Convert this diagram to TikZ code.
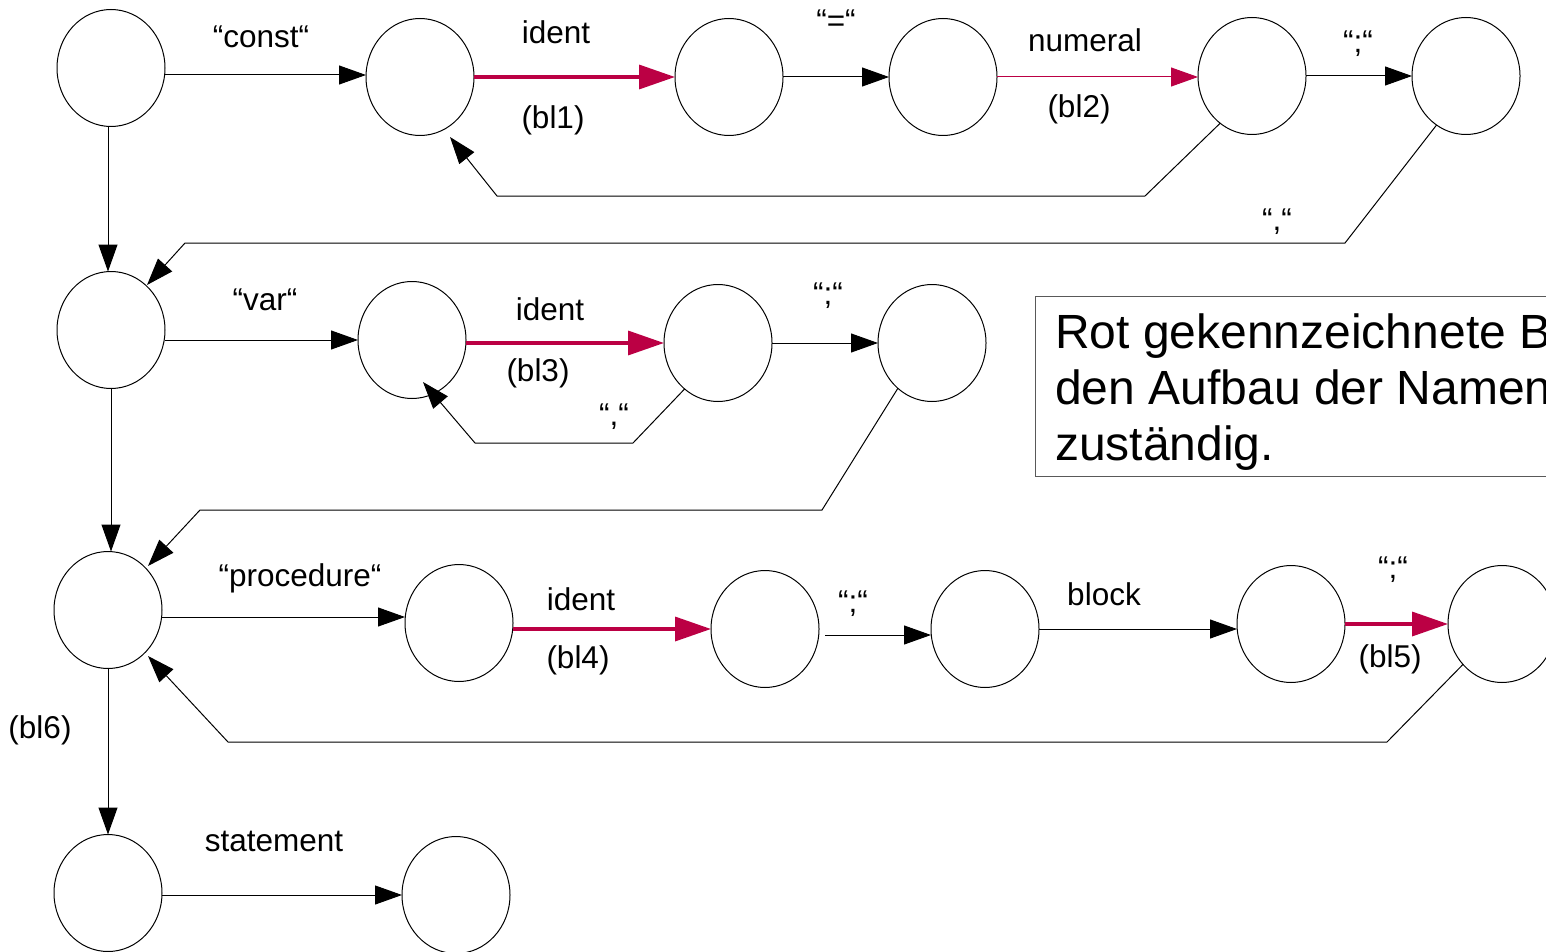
\documentclass[tikz,border=0pt]{standalone}
\usepackage{fontspec}
\setmainfont{Liberation Sans}
\usetikzlibrary{arrows.meta,shapes.geometric,calc}
\definecolor{markred}{RGB}{187,0,68}
\begin{document}
\begin{tikzpicture}[x=1pt,y=-1pt,
  state/.style={draw, ellipse, minimum width=108pt, minimum height=117pt,
    inner sep=0pt, outer sep=0pt, line width=1pt},
  arr/.style={line width=1pt, -{Triangle[length=27pt,width=19pt]}},
  redarr/.style={draw=markred, line width=3.5pt, -{Triangle[length=36pt,width=24pt]}},
  thinred/.style={draw=markred, line width=1pt, -{Triangle[length=27pt,width=19pt]}},
  lbl/.style={font=\fontsize{31.5}{36}\selectfont, inner sep=0pt, anchor=base},
  notetext/.style={font=\fontsize{48}{56}\selectfont, inner sep=0pt, anchor=base west}
]
\clip (0,0) rectangle (1546,952);
\useasboundingbox (0,0) rectangle (1546,952);

% states
\node[state] (C1) at (111,68) {};
\node[state] (C2) at (420,77) {};
\node[state] (C3) at (729,77) {};
\node[state] (C4) at (943,77) {};
\node[state] (C5) at (1252,76) {};
\node[state] (C6) at (1466,76) {};

\node[state] (D1) at (111,330) {};
\node[state] (D2) at (412,340) {};
\node[state] (D3) at (718,343) {};
\node[state] (D4) at (932,343) {};

\node[state] (E1) at (108,610) {};
\node[state] (E2) at (459,623) {};
\node[state] (E3) at (765,629) {};
\node[state] (E4) at (985,629) {};
\node[state] (E5) at (1291,624) {};
\node[state] (E6) at (1502,624) {};

\node[state] (F1) at (108,893) {};
\node[state] (F2) at (456,895) {};

% const section
\coordinate (c12) at ([yshift=-7pt]C1.east);
\draw[arr] (c12) -- (c12 -| C2.west);
\draw[redarr] (C2.east) -- (C2.east -| C3.west);
\draw[arr] (C3.east |- C4.west) -- (C4.west);
\draw[thinred] (C4.east) -- (C4.east -| C5.west);
\draw[arr] (C5.east) -- (C5.east -| C6.west);
\draw[arr] (C5.236) -- (1145,196) -- (497,196) -- ($(C2.center)+(30,60)$);
\draw[arr] (C6.239) -- (1345,243) -- (185,243) -- ($(D1.center)+(36,-45)$);
\draw[arr] ([xshift=-3pt]C1.south) -- ([xshift=-3pt]D1.north);

% var section
\draw[arr] (D1.east |- D2.west) -- (D2.west);
\draw[redarr] (D2.east |- D3.west) -- (D3.west);
\draw[arr] (D3.east) -- (D3.east -| D4.west);
\draw[arr] (D3.234) -- (633,443) -- (475,443) -- ($(D2.center)+(11,42)$);
\draw[arr] (D4.233) -- (822,510) -- (200,510) -- ($(E1.center)+(40,-44)$);
\draw[arr] (D1.south) -- (D1.south |- E1.north);

% procedure section
\coordinate (e12) at ([yshift=-7pt]E1.east);
\draw[arr] (e12) -- (e12 -| E2.west);
\draw[redarr] (E2.east |- E3.west) -- (E3.west);
\coordinate (e34) at ([xshift=6pt,yshift=-6pt]E3.east);
\draw[arr] (e34) -- (e34 -| E4.west);
\draw[arr] (E4.east) -- (E4.east -| E5.west);
\draw[redarr] (E5.east) -- (E5.east -| E6.west);
\draw[arr] (E6.226) -- (1387,742) -- (228,742) -- ($(E1.center)+(40,46)$);
\draw[arr] (E1.south) -- (F1.north);

% statement
\draw[arr] (F1.east |- F2.west) -- (F2.west);

% edge labels
\node[lbl] (t1) at (261,48) {“const“};
\node[lbl] (t2) at (556,44) {ident};
\node[lbl] (t3) at (553,129) {(bl1)};
\node[lbl] (t4) at (836,32) {“=“};
\node[lbl] (t5) at (1085,52) {numeral};
\node[lbl] (t6) at (1079,118) {(bl2)};
\node[lbl] (t7) at (1358,53) {“;“};
\node[lbl] (t8) at (1277,230) {“,“};

\node[lbl] (t9) at (265,310) {“var“};
\node[lbl] (t10) at (550,320) {ident};
\node[lbl] (t11) at (538,381) {(bl3)};
\node[lbl] (t12) at (828,304) {“;“};
\node[lbl] (t13) at (614,425) {“,“};

\node[lbl] (t14) at (300,586) {“procedure“};
\node[lbl] (t15) at (581,610) {ident};
\node[lbl] (t16) at (578,668) {(bl4)};
\node[lbl] (t17) at (853,612) {“;“};
\node[lbl] (t18) at (1104,605) {block};
\node[lbl] (t19) at (1393,578) {“;“};
\node[lbl] (t20) at (1390,667) {(bl5)};
\node[lbl] (t21) at (40,738) {(bl6)};
\node[lbl] (t22) at (274,851) {statement};

% note box, running past the right edge
\node[draw=black!65, line width=1.2pt, minimum width=560pt, minimum height=180pt,
  inner sep=0pt, anchor=north west] (note) at (1035,296) {};
\node[notetext] (n1) at (1055,348) {Rot gekennzeichnete B};
\node[notetext] (n2) at (1055,404) {den Aufbau der Namen};
\node[notetext] (n3) at (1055,460) {zuständig.};
\end{tikzpicture}
\end{document}
